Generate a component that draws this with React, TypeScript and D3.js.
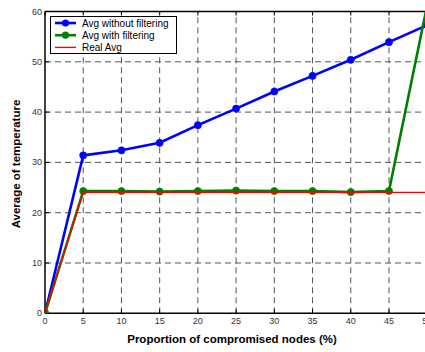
import React from "react";
import * as d3 from "d3";

const xValues = [0, 5, 10, 15, 20, 25, 30, 35, 40, 45, 50];
const withoutFiltering = [0, 31.4, 32.4, 33.9, 37.4, 40.7, 44.1, 47.2, 50.4, 53.9, 57.3];
const withFiltering = [0, 24.3, 24.3, 24.2, 24.3, 24.4, 24.3, 24.3, 24.1, 24.3, 61.3];
const realAvg = [0, 24.05, 24.05, 24.05, 24.05, 24.05, 24.05, 24.05, 24.05, 24.05, 24.05];
const xTicks = [0, 5, 10, 15, 20, 25, 30, 35, 40, 45, 50];
const yTicks = [0, 10, 20, 30, 40, 50, 60];

const W = 425;
const H = 352;
const left = 45;
const right = 427.2;
const top = 11.5;
const bottom = 313.3;
const font = "'Liberation Sans', Arial, Helvetica, sans-serif";

export default function App() {
  const x = d3.scaleLinear().domain([0, 50]).range([left, right]);
  const y = d3.scaleLinear().domain([0, 60]).range([bottom, top]);
  const line = d3
    .line<number>()
    .x((_, i) => x(xValues[i]))
    .y((d) => y(d));

  const series = [
    { name: "Avg without filtering", data: withoutFiltering, color: "#0000ff", width: 2.6, marker: true },
    { name: "Avg with filtering", data: withFiltering, color: "#008000", width: 2.6, marker: true },
    { name: "Real Avg", data: realAvg, color: "#ff0000", width: 1.4, marker: false },
  ];

  return (
    <svg
      width={W}
      height={H}
      style={{ position: "absolute", left: 0, top: 0, background: "#fff" }}
      fontFamily={font}
    >
      <defs>
        <clipPath id="plotclip">
          <rect x={left} y={top} width={right - left} height={bottom - top} />
        </clipPath>
      </defs>
      <rect x={0} y={0} width={W} height={H} fill="#fff" />
      {/* grid */}
      <g stroke="#555" strokeWidth={1} strokeDasharray="6,4" fill="none">
        {xTicks.slice(1).map((t) => (
          <line key={"gx" + t} x1={x(t)} x2={x(t)} y1={bottom} y2={top} />
        ))}
        {yTicks.slice(1).map((t) => (
          <line key={"gy" + t} x1={left} x2={right} y1={y(t)} y2={y(t)} />
        ))}
      </g>
      {/* ticks */}
      <g stroke="#000" strokeWidth={1}>
        {xTicks.map((t) => (
          <React.Fragment key={"tx" + t}>
            <line x1={x(t)} x2={x(t)} y1={bottom} y2={bottom - 4} />
            <line x1={x(t)} x2={x(t)} y1={top} y2={top + 4} />
          </React.Fragment>
        ))}
        {yTicks.map((t) => (
          <line key={"ty" + t} x1={left} x2={left + 4} y1={y(t)} y2={y(t)} />
        ))}
      </g>
      {/* axes box */}
      <g stroke="#000" strokeWidth={1.5} fill="none">
        <line x1={left} x2={left} y1={top} y2={bottom} />
        <line x1={left} x2={right} y1={bottom} y2={bottom} />
        <line x1={left} x2={right} y1={top} y2={top} />
        <line x1={right} x2={right} y1={top} y2={bottom} />
      </g>
      {/* series */}
      <g clipPath="url(#plotclip)">
        {series.map((s) => (
          <g key={s.name}>
            <path d={line(s.data) || ""} fill="none" stroke={s.color} strokeWidth={s.width} strokeLinejoin="round" />
            {s.marker &&
              s.data.map((v, i) => (
                <circle key={i} cx={x(xValues[i])} cy={y(v)} r={3.6} fill={s.color} stroke={s.color} strokeWidth={0.6} />
              ))}
          </g>
        ))}
      </g>
      {/* tick labels */}
      <g fontSize={9} fill="#333">
        {xTicks.map((t) => (
          <text key={"lx" + t} x={x(t)} y={bottom + 11} textAnchor="middle">
            {t}
          </text>
        ))}
        {yTicks.map((t) => (
          <text key={"ly" + t} x={left - 3} y={y(t) + 3} textAnchor="end">
            {t}
          </text>
        ))}
      </g>
      {/* axis labels */}
      <text x={232} y={343} textAnchor="middle" fontSize={11.5} fontWeight="bold" fill="#000">
        Proportion of compromised nodes (%)
      </text>
      <text
        transform={`translate(20,164) rotate(-90)`}
        textAnchor="middle"
        fontSize={11.5}
        fontWeight="bold"
        fill="#000"
      >
        Average of temperature
      </text>
      {/* legend */}
      <g>
        <rect x={50.5} y={16.5} width={126} height={37} fill="#fff" stroke="#000" strokeWidth={1} />
        {series.map((s, i) => {
          const cy = 23 + i * 12.2;
          return (
            <g key={"lg" + s.name}>
              <line x1={55} x2={76} y1={cy} y2={cy} stroke={s.color} strokeWidth={s.width} />
              {s.marker && <circle cx={65.5} cy={cy} r={3.6} fill={s.color} />}
              <text x={82} y={cy + 3.5} fontSize={10} fill="#000">
                {s.name}
              </text>
            </g>
          );
        })}
      </g>
    </svg>
  );
}
